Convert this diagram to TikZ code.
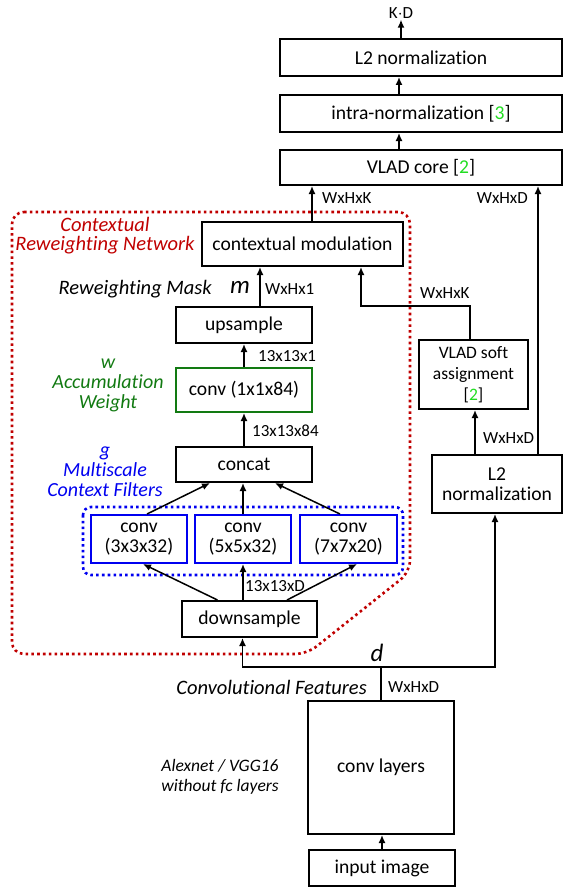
\documentclass[tikz,border=0pt]{standalone}
\usepackage{fontspec}
\setmainfont[Ligatures=NoCommon]{Carlito}
\usetikzlibrary{arrows.meta}
\definecolor{crnred}{HTML}{C00000}
\definecolor{accgreen}{HTML}{127A12}
\definecolor{ctxblue}{HTML}{0000F0}
\definecolor{citegreen}{HTML}{22DD22}
\newcommand{\cit}[1]{[\textcolor{citegreen}{#1}]}
\tikzset{
  blk/.style={draw, line width=2pt, inner sep=0pt, align=center, font=\fontsize{19.6}{20}\selectfont},
  dim/.style={inner sep=0pt, font=\fontsize{17}{18}\selectfont},
  note/.style={inner sep=0pt, align=center, font=\fontsize{20.5}{19}\selectfont\itshape},
  arr/.style={-{Latex[length=8pt,width=7pt]}, line width=1.5pt},
  wire/.style={line width=1.5pt},
}

\begin{document}
\begin{tikzpicture}[x=1pt, y=-1pt]
            \useasboundingbox (0,0) rectangle (564,888);
            % contextual reweighting network and multiscale filters
            \draw[crnred, line width=2.6pt, dash pattern=on 2.6pt off 3.2pt, rounded corners=12pt]
                (12,212) -- (410,212) -- (410,572) -- (307,654) -- (12,654) -- cycle;
            \draw[ctxblue, line width=2.6pt, dash pattern=on 2.6pt off 3.2pt, rounded corners=8pt]
                (83,507) rectangle (403,575);

            \node[blk, minimum width=282pt, minimum height=37pt] (l2top) at (421,57.5) {L2 normalization};
            \node[blk, minimum width=282pt, minimum height=37pt] (intra) at (421,113.5) {intra-normalization \cit{3}};
            \node[blk, minimum width=282pt, minimum height=35pt] (vcore) at (421,167.5) {VLAD core \cit{2}};
            \node[dim] (kd) at (401,13) {K$\cdot$D};

            \node[blk, minimum width=201pt, minimum height=44pt] (cm) at (302.5,244) {contextual modulation};
            \node[blk, minimum width=136pt, minimum height=36pt] (up) at (244,325) {upsample};
            \node[blk, draw=accgreen, minimum width=136pt, minimum height=44pt] (cw) at (244,390) {conv (1x1x84)};
            \node[blk, minimum width=136pt, minimum height=35pt] (cat) at (244,464.5) {concat};
            \node[blk, draw=ctxblue, minimum width=96pt, minimum height=48pt] (g1) at (139,539) {conv\\(3x3x32)};
            \node[blk, draw=ctxblue, minimum width=96pt, minimum height=48pt] (g2) at (243,539) {conv\\(5x5x32)};
            \node[blk, draw=ctxblue, minimum width=97pt, minimum height=48pt] (g3) at (348.5,539) {conv\\(7x7x20)};
            \node[blk, minimum width=135pt, minimum height=36pt] (ds) at (249.5,619) {downsample};

            \node[blk, minimum width=109pt, minimum height=69pt, font=\fontsize{17.5}{21}\selectfont] (vsa) at (473.5,374.5) {VLAD soft\\assignment\\\cit{2}};
            \node[blk, minimum width=130pt, minimum height=58pt] (l2r) at (497,484) {L2\\normalization};

            \node[blk, minimum width=146pt, minimum height=133pt] (cl) at (381,767.5) {conv layers};
            \node[blk, minimum width=146pt, minimum height=36pt] (img) at (382,868) {input image};

            \coordinate (fork) at (381,667);
            \coordinate (bend) at (361,306);

            % side texts
            \node[note, text=crnred] (crn) at (105,236) {Contextual\\Reweighting Network};
            \node[note, text=accgreen, font=\fontsize{20}{20}\selectfont\itshape] (acc) at (108,385) {w\\Accumulation\\Weight};
            \node[note, text=ctxblue, font=\fontsize{20}{20}\selectfont\itshape] (mcf) at (105,472) {g\\Multiscale\\Context Filters};
            \node[note, anchor=east] (rwm) at (212,289) {Reweighting Mask};
            \node[note, font=\fontsize{25}{25}\selectfont\itshape] (m) at (240,287) {m};
            \node[note, font=\fontsize{25}{25}\selectfont\itshape] (d) at (377,653) {d};
            \node[note, anchor=east] (cf) at (367,687) {Convolutional Features};
            \node[note, font=\fontsize{17.5}{20}\selectfont\itshape] (net) at (220,777) {Alexnet / VGG16\\without fc layers};

            % connectors
            \draw[arr] (img.north) -- (img.north |- cl.south);
            \draw[wire] (cl.north) -- (fork);
            \draw[arr] (fork) -| ([xshift=-7pt]ds.south);
            \draw[arr] (fork) -| ([xshift=-2pt]l2r.south);
            \draw[arr] ([xshift=-32pt]ds.north) -- ([xshift=4pt]g1.south);
            \draw[arr] ([xshift=-6.5pt]ds.north) -- (g2.south);
            \draw[arr] ([xshift=37.5pt]ds.north) -- ([xshift=8.5pt]g3.south);
            \draw[arr] ([xshift=8pt]g1.north) -- ([xshift=-34pt]cat.south);
            \draw[arr] (g2.north) -- ([xshift=-1pt]cat.south);
            \draw[arr] ([xshift=-8.5pt]g3.north) -- ([xshift=31pt]cat.south);
            \draw[arr] (cat.north) -- (cw.south);
            \draw[arr] (cw.north) -- (up.south);
            \draw[arr] ([xshift=16pt]up.north) -- ([xshift=-42.5pt]cm.south);
            \draw[arr] ([xshift=9.5pt]cm.north) -- ([xshift=-109pt]vcore.south);
            \draw[arr] ([xshift=-3.5pt]vsa.north) |- (bend) -- ([xshift=58.5pt]cm.south);
            \draw[arr] ([xshift=-22pt]l2r.north) -- ([xshift=1.5pt]vsa.south);
            \draw[arr] ([xshift=41pt]l2r.north) -- ([xshift=117pt]vcore.south);
            \draw[arr] ([xshift=-22pt]vcore.north) -- ([xshift=-22pt]intra.south);
            \draw[arr] ([xshift=-22pt]intra.north) -- ([xshift=-22pt]l2top.south);
            \draw[arr] ([xshift=-20pt]l2top.north) -- ([yshift=-1pt]kd.south);

            % dimensions
            \node[dim, anchor=west] (d1) at (245,586) {13x13xD};
            \node[dim, anchor=west] (d2) at (252,431) {13x13x84};
            \node[dim, anchor=west] (d3) at (258,356) {13x13x1};
            \node[dim, anchor=west] (d4) at (265,289) {WxHx1};
            \node[dim, anchor=west] (d5) at (322,198) {WxHxK};
            \node[dim, anchor=west] (d6) at (420,293) {WxHxK};
            \node[dim, anchor=west] (d7) at (483,438) {WxHxD};
            \node[dim, anchor=east] (d8) at (528,198) {WxHxD};
            \node[dim, anchor=west] (d9) at (388,687) {WxHxD};
\end{tikzpicture}
\end{document}
